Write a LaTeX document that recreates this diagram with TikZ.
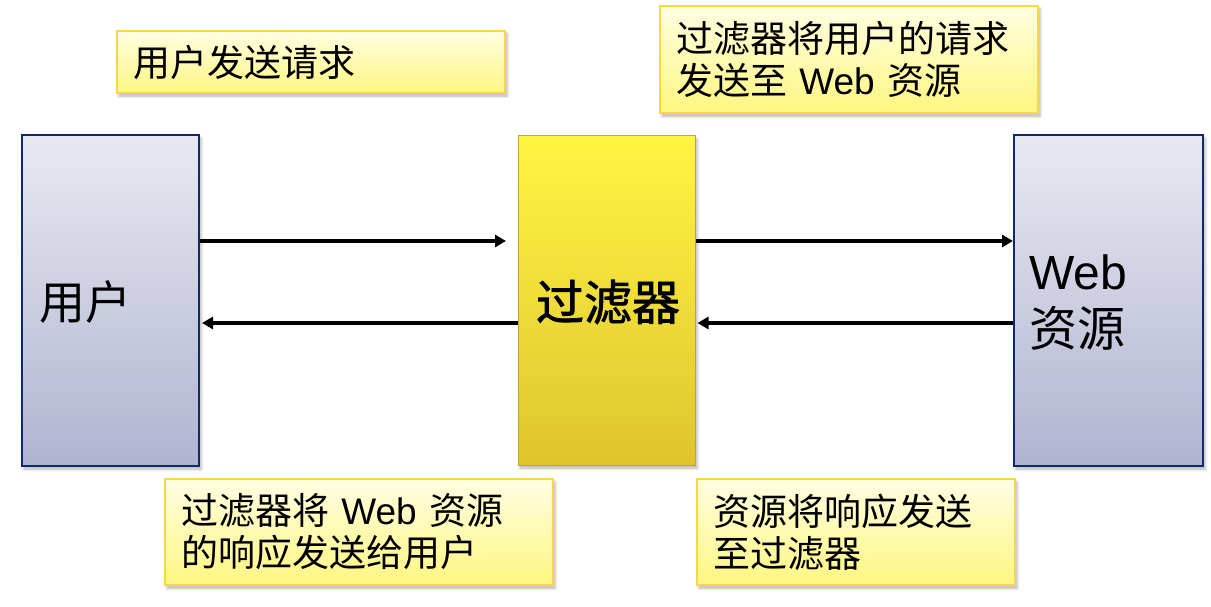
\documentclass[tikz,border=0pt]{standalone}
\usepackage{fontspec}
\usetikzlibrary{arrows.meta,shadows.blur}
\setmainfont{Noto Sans CJK SC}
\newfontfamily\cjk{Noto Sans CJK SC}
\newfontfamily\cjkheavy[FakeBold=1.6]{Noto Sans CJK SC}
\newfontfamily\lat{Liberation Sans}
\newcommand{\Web}{{\lat Web}}

\definecolor{boxtop}{HTML}{E8E9F1}
\definecolor{boxbot}{HTML}{B0B4D1}
\definecolor{boxline}{HTML}{102A6A}
\definecolor{filttop}{HTML}{FFF542}
\definecolor{filtbot}{HTML}{E0C42E}
\definecolor{filtline}{HTML}{BFA52A}
\definecolor{notetop}{HTML}{FFFEE2}
\definecolor{notebot}{HTML}{FFF680}
\definecolor{noteline}{HTML}{F6D64A}

\tikzset{
  softshadow/.style={blur shadow={shadow xshift=2pt, shadow yshift=-3pt,
      shadow blur radius=3pt, shadow opacity=30}},
  party/.style={draw=boxline, line width=2pt, top color=boxtop, bottom color=boxbot,
      softshadow, align=left, inner sep=0pt, anchor=center},
  filterbox/.style={draw=filtline, line width=1pt, top color=filttop, bottom color=filtbot,
      softshadow, inner sep=0pt, anchor=center},
  note/.style={draw=noteline, line width=1.5pt, top color=notetop, bottom color=notebot,
      softshadow, align=left, inner xsep=16pt, inner ysep=0pt, anchor=center,
      font=\fontsize{37}{42}\selectfont},
  flow/.style={line width=3.6pt, -{Triangle[length=11pt,width=12pt]}}
}

\begin{document}
\begin{tikzpicture}[x=1pt,y=-1pt]
  \useasboundingbox (0,0) rectangle (1211,607);

  % the three parties
  \node[party, minimum width=177pt, minimum height=331pt] (user) at (110.5,300.5) {};
  \node[font=\fontsize{46}{52}\selectfont, anchor=west] (userlbl) at (36,302) {用户};

  \node[filterbox, minimum width=177pt, minimum height=329pt] (filter) at (606.5,300.5) {};
  \node[font=\fontsize{48}{54}\cjkheavy] (filterlbl) at (608,302) {过滤器};

  \node[party, minimum width=189pt, minimum height=331pt] (web) at (1108.5,300.5) {};
  \node[font=\fontsize{48}{57}\selectfont, align=left, anchor=west] (weblbl) at (1026,303) {\Web\\资源};

  % request and response flows
  \coordinate (reqend) at (506,241);
  \draw[flow] (user.east |- 0,241) -- (reqend);
  \draw[flow] (filter.east |- 0,241) -- (web.west |- 0,241);
  \draw[flow] (web.west |- 0,323) -- ([xshift=2pt]filter.east |- 0,323);
  \draw[flow] (filter.west |- 0,323) -- ([xshift=2pt]user.east |- 0,323);

  % captions
  \node[note, minimum height=62pt, text width=356pt] (n1) at (311,62) {用户发送请求};
  \node[note, minimum height=107pt, text width=346pt] (n2) at (849,59.5)
    {过滤器将用户的请求\\发送至 \Web{} 资源};
  \node[note, minimum height=106pt, text width=356pt] (n3) at (359,532)
    {过滤器将 \Web{} 资源\\的响应发送给用户};
  \node[note, minimum height=106pt, text width=286pt] (n4) at (856,532)
    {资源将响应发送\\至过滤器};
\end{tikzpicture}
\end{document}
